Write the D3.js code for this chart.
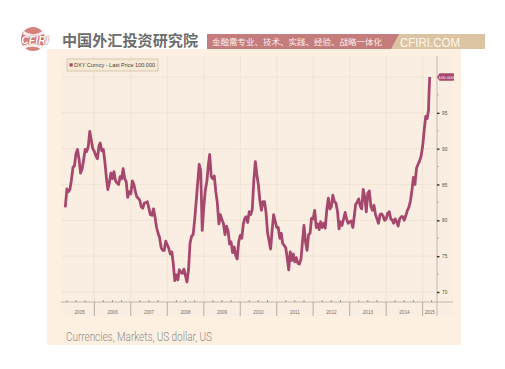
<!DOCTYPE html>
<html><head><meta charset="utf-8">
<script src="https://cdn.jsdelivr.net/npm/d3@7"></script>
<style>body{margin:0;background:#fff}svg{display:block}</style>
</head><body><svg id="c" width="505" height="369"></svg>
<script>
// DXY semi-monthly values (1st and 16th of each month). 2005 starts at Mar 16.
const dxy2005 = [81.8,84.4,84.0,84.3,85.6,87.4,87.6,89.3,89.9,88.5,86.6,87.2,88.5,89.9,89.6,90.3,92.4,91.2,90.0];
const dxy2006 = [89.6,89.0,88.6,90.4,90.8,89.7,89.9,88.2,86.0,84.3,85.3,86.6,85.8,86.8,85.5,85.2,85.0,86.1,85.8,87.2,85.8,85.4,83.2,84.0];
const dxy2007 = [83.7,85.5,85.0,84.0,83.3,83.1,82.8,81.9,81.7,82.4,82.5,82.6,81.7,80.8,80.7,81.6,80.4,79.0,78.2,77.6,76.2,75.8,75.8,77.1];
const dxy2008 = [76.6,76.1,75.3,75.6,74.0,71.6,72.4,71.7,73.1,72.8,72.6,73.2,72.3,71.4,73.1,76.8,77.8,78.0,80.0,82.5,85.3,87.8,86.9,78.6];
const dxy2009 = [81.9,84.2,85.5,87.8,89.2,86.1,85.8,86.2,84.0,82.5,79.5,80.8,80.1,79.6,78.0,79.2,78.5,76.7,77.0,75.5,76.3,75.1,74.6,77.0];
const dxy2010 = [77.9,77.5,79.5,80.3,80.5,79.7,81.2,80.8,81.5,85.4,88.2,86.4,85.0,82.8,81.4,82.6,82.6,81.1,78.3,77.2,76.0,78.6,80.8,79.9];
const dxy2011 = [79.0,79.0,77.5,78.2,76.8,76.5,76.2,74.8,73.1,75.6,74.4,75.3,74.2,74.8,74.0,73.9,74.6,77.0,79.3,77.0,75.8,78.0,78.2,80.3];
const dxy2012 = [80.2,81.4,79.0,79.5,78.7,79.8,79.0,79.6,78.9,81.4,83.1,81.6,81.9,83.5,82.6,82.4,81.2,78.8,79.8,79.3,80.2,81.1,80.2,79.6];
const dxy2013 = [79.8,79.9,79.0,80.6,82.2,82.5,83.0,82.0,81.6,84.3,83.2,81.2,83.8,84.1,82.0,81.4,82.1,80.8,80.2,79.6,80.8,80.9,80.6,80.0];
const dxy2014 = [80.2,81.0,81.2,80.2,80.1,79.6,80.2,79.8,79.2,80.2,80.5,80.5,80.0,80.6,81.4,81.8,82.7,84.2,86.0,85.0,87.3,87.8,88.3,88.9];
const dxy2015 = [90.3,92.5,94.5,94.2,95.4];
const finalDates = ["2015-03-06","2015-03-13"];
const finalValues = [97.7,100.0];

const yTicks = [70,75,80,85,90,95];
const yMinorTicks = [72.5,77.5,82.5,87.5,92.5,97.5];
const yearLabels = ["2005","2006","2007","2008","2009","2010","2011","2012","2013","2014","2015"];
const legendText = "DXY Curncy - Last Price 100.000";
const lastPriceLabel = "100.000";
const caption = "Currencies, Markets, US dollar, US";
const orgTitle = "中国外汇投资研究院";
const slogan = "金融需专业、技术、实践、经验、战略一体化";
const site = "CFIRI.COM";
const logoText = "CFIRI";

const LINE = "#a6486d";
const svg = d3.select("#c");

// build series
const yearly = [[2005,dxy2005,5],[2006,dxy2006,0],[2007,dxy2007,0],[2008,dxy2008,0],[2009,dxy2009,0],
  [2010,dxy2010,0],[2011,dxy2011,0],[2012,dxy2012,0],[2013,dxy2013,0],[2014,dxy2014,0],[2015,dxy2015,0]];
const data = [];
yearly.forEach(([yr,arr,off]) => arr.forEach((v,i) => {
  const k = i + off;
  data.push({date: new Date(yr, Math.floor(k/2), k % 2 ? 16 : 1), value: v});
}));
finalDates.forEach((d,i) => data.push({date: new Date(d + "T00:00:00"), value: finalValues[i]}));

// ---------- header ----------
const logo = svg.append("g");
logo.append("circle").attr("cx",33).attr("cy",39).attr("r",12).attr("fill","#d7817c");
logo.append("path").attr("d","M24,31 Q33,38 44,30 L45,33 Q33,42 23,34 Z").attr("fill","#fff").attr("opacity",0.85);
logo.append("path").attr("d","M22,46 Q33,40 45,47 L43,50 Q33,44 24,49 Z").attr("fill","#fff").attr("opacity",0.85);
logo.append("text").attr("x",35).attr("y",44).attr("text-anchor","middle")
  .attr("font-family","Liberation Sans, Arial, sans-serif").attr("font-weight","bold").attr("font-style","italic")
  .attr("font-size",10.5).attr("fill","#fff").attr("stroke","#b9403c").attr("stroke-width",0.7)
  .attr("paint-order","stroke").text(logoText);

svg.append("text").attr("x",62).attr("y",45.5)
  .attr("font-family","Noto Sans CJK SC").attr("font-weight","bold").attr("font-size",15.2)
  .attr("fill","#6d6d6d").attr("textLength",136).attr("lengthAdjust","spacingAndGlyphs").text(orgTitle);

// banner
svg.append("path").attr("d","M207,34 L485,34 L485,49 L207,49 Z").attr("fill","#dcc4a2");
svg.append("path").attr("d","M207,34 L399,34 L391,49 L207,49 Z").attr("fill","#c47c7c");
svg.append("text").attr("x",212).attr("y",45).attr("font-family","Noto Sans CJK SC").attr("font-size",8)
  .attr("fill","#fdf0ee").attr("textLength",170).attr("lengthAdjust","spacingAndGlyphs").text(slogan);
svg.append("text").attr("x",400).attr("y",47).attr("font-family","Liberation Sans, Arial, sans-serif")
  .attr("font-size",12.5).attr("fill","#fff8ee").attr("textLength",60).attr("lengthAdjust","spacingAndGlyphs").text(site);

// ---------- panel ----------
svg.append("rect").attr("x",47).attr("y",49).attr("width",414).attr("height",296).attr("fill","#fdf0e0");
svg.append("rect").attr("x",61).attr("y",56).attr("width",392).attr("height",260).attr("fill","#f9eee1");

const x = d3.scaleTime().domain([new Date(2005,2,13), new Date(2015,4,25)]).range([65,437]);
const y = d3.scaleLinear().domain([70,100]).range([292,77]);
const axisY = 302, plotTop = 56;

// grid
svg.append("g").selectAll("line").data(yTicks.concat([100])).join("line")
  .attr("x1",61).attr("x2",437).attr("y1",d=>y(d)).attr("y2",d=>y(d))
  .attr("stroke","#ecdfcd").attr("stroke-width",0.7);
const yearBounds = d3.timeYear.range(new Date(2006,0,1), new Date(2015,0,2));
svg.append("g").selectAll("line").data(yearBounds).join("line")
  .attr("x1",d=>x(d)).attr("x2",d=>x(d)).attr("y1",plotTop).attr("y2",axisY)
  .attr("stroke","#ecdfcd").attr("stroke-width",0.7);

// x axis line + separators
svg.append("line").attr("x1",61).attr("x2",453).attr("y1",axisY).attr("y2",axisY).attr("stroke","#b5aa9c").attr("stroke-width",0.8);
svg.append("g").selectAll("line").data(yearBounds).join("line")
  .attr("x1",d=>x(d)).attr("x2",d=>x(d)).attr("y1",axisY).attr("y2",316)
  .attr("stroke","#a69d92").attr("stroke-width",0.8);
const quarters = d3.timeMonth.every(3).range(x.domain()[0], x.domain()[1]).filter(d => d.getMonth() !== 0);
svg.append("g").selectAll("line").data(quarters).join("line")
  .attr("x1",d=>x(d)).attr("x2",d=>x(d)).attr("y1",axisY-1.8).attr("y2",axisY)
  .attr("stroke","#777").attr("stroke-width",0.8);
const bounds = [x.domain()[0]].concat(yearBounds).concat([x.domain()[1]]);
svg.append("g").selectAll("text").data(yearLabels).join("text")
  .attr("x",(d,i)=> (x(bounds[i]) + x(bounds[i+1]))/2).attr("y",314)
  .attr("text-anchor","middle").attr("font-family","Liberation Sans, Arial, sans-serif")
  .attr("font-size",4.6).attr("fill","#7a7068").text(d=>d);

// y axis
svg.append("line").attr("x1",437).attr("x2",437).attr("y1",plotTop).attr("y2",316).attr("stroke","#b5aa9c").attr("stroke-width",0.8);
const yAxis = d3.axisRight(y).tickValues(yTicks).tickSize(2.5).tickPadding(2.5).tickFormat(d3.format("d"));
const ya = svg.append("g").attr("transform","translate(437,0)").call(yAxis);
ya.select(".domain").remove();
ya.selectAll(".tick line").attr("stroke","#333").attr("stroke-width",1.4);
ya.selectAll(".tick text").attr("font-family","Liberation Sans, Arial, sans-serif").attr("font-size",4.8).attr("fill","#5a524c");
svg.append("g").selectAll("line").data(yMinorTicks).join("line")
  .attr("x1",437).attr("x2",438.8).attr("y1",d=>y(d)).attr("y2",d=>y(d)).attr("stroke","#999").attr("stroke-width",0.6);

// line
svg.append("path").datum(data)
  .attr("d", d3.line().x(d=>x(d.date)).y(d=>y(d.value)).curve(d3.curveLinear))
  .attr("fill","none").attr("stroke",LINE).attr("stroke-width",2.8).attr("stroke-linejoin","round");

// last price label
const last = data[data.length-1];
svg.append("path").attr("d",`M437,${y(last.value)} l2.5,-3.8 h13.5 q1,0 1,1 v5.6 q0,1 -1,1 h-13.5 Z`).attr("fill",LINE);
svg.append("text").attr("x",446.3).attr("y",y(last.value)+1.6).attr("text-anchor","middle")
  .attr("font-family","Liberation Sans, Arial, sans-serif").attr("font-size",4.3).attr("fill","#fff").text(lastPriceLabel);

// legend
svg.append("rect").attr("x",67).attr("y",59).attr("width",91).attr("height",12).attr("fill","#f6ead6").attr("stroke","#cbb898").attr("stroke-width",0.7);
svg.append("rect").attr("x",69.5).attr("y",63.3).attr("width",3.2).attr("height",3.2).attr("fill",LINE);
svg.append("text").attr("x",74).attr("y",67.3).attr("font-family","Liberation Sans, Arial, sans-serif").attr("font-size",6)
  .attr("fill","#4a4440").attr("textLength",81).attr("lengthAdjust","spacingAndGlyphs").text(legendText);

// caption
svg.append("text").attr("x",66).attr("y",340.5).attr("font-family","Roboto, sans-serif").attr("font-weight",300)
  .attr("font-size",12.5).attr("fill","#8d8d8d").attr("textLength",146).attr("lengthAdjust","spacingAndGlyphs").text(caption);
</script></body></html>
